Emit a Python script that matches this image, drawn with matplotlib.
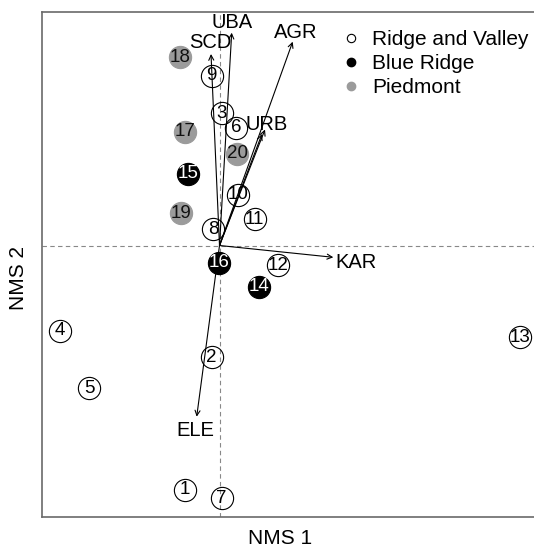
import matplotlib
matplotlib.use("Agg")
import matplotlib.pyplot as plt
from matplotlib.lines import Line2D

plt.rcParams['font.family'] = ['Liberation Sans', 'DejaVu Sans']

# Site scores (NMS 1, NMS 2)
site_ids = [str(i) for i in range(1, 21)]
nms1 = [-0.345, -0.078, 0.022, -1.595, -1.302, 0.165, 0.022, -0.062, -0.078, 0.182,
        0.350, 0.582, 3.005, 0.390, -0.315, -0.002, -0.345, -0.395, -0.385, 0.175]
nms2 = [-2.445, -1.118, 1.325, -0.852, -1.428, 1.175, -2.528, 0.162, 1.695, 0.510,
        0.265, -0.195, -0.918, -0.410, 0.720, -0.170, 1.135, 1.885, 0.325, 0.915]
region = (["Ridge and Valley"] * 13 + ["Blue Ridge"] * 3 + ["Piedmont"] * 4)

# Environmental vectors
vec_names = ["UBA", "SCD", "AGR", "URB", "", "KAR", "ELE"]
vec_x = [0.122, -0.085, 0.732, 0.455, 0.425, 1.138, -0.228]
vec_y = [2.128, 1.915, 2.038, 1.160, 1.115, -0.118, -1.712]
lab_x = [0.125, -0.095, 0.765, 0.475, 0.0, 1.365, -0.245]
lab_y = [2.225, 2.025, 2.135, 1.215, 0.0, -0.165, -1.855]

styles = {
    "Ridge and Valley": dict(face="none", edge="black", text="black", z=2),
    "Blue Ridge": dict(face="black", edge="black", text="white", z=5),
    "Piedmont": dict(face="#9b9b9b", edge="#9b9b9b", text="#111111", z=5),
}

W, H = 534, 546
fig = plt.figure(figsize=(W / 100, H / 100), dpi=100)
ax = fig.add_axes([41.5 / W, (H - 517) / H, 1 - 41.5 / W, 505 / H])
ax.set_xlim(-1.78, 3.145)
ax.set_ylim(-2.715, 2.335)

for s in ["left", "top", "bottom"]:
    ax.spines[s].set_color("#6a6a6a")
    ax.spines[s].set_linewidth(1.2)
ax.spines["right"].set_visible(False)
ax.set_xticks([])
ax.set_yticks([])

ax.axhline(0, color="#888888", lw=0.8, ls=(0, (4, 3)), zorder=1)
ax.axvline(0, color="#888888", lw=0.8, ls=(0, (4, 3)), zorder=1)

# vectors
for name, vx, vy, lx, ly in zip(vec_names, vec_x, vec_y, lab_x, lab_y):
    ax.annotate("", xy=(vx, vy), xytext=(0, 0),
                arrowprops=dict(arrowstyle="->", lw=0.8, color="black",
                                shrinkA=0, shrinkB=0, mutation_scale=9),
                zorder=3)
    if name:
        ax.text(lx, ly, name, ha="center", va="center", fontsize=14.5, zorder=6)

# sites
for sid, x, y, r in zip(site_ids, nms1, nms2, region):
    st = styles[r]
    ax.plot([x], [y], marker="o", ms=16, mfc=st["face"], mec=st["edge"],
            mew=0.8, ls="none", zorder=st["z"])
    ax.text(x, y, sid, ha="center", va="center", fontsize=13.5,
            color=st["text"], zorder=st["z"] + 0.5)

handles = [Line2D([], [], marker="o", ls="none", ms=6, mfc="none", mec="black", mew=0.8),
           Line2D([], [], marker="o", ls="none", ms=6, mfc="black", mec="black"),
           Line2D([], [], marker="o", ls="none", ms=6, mfc="#9b9b9b", mec="#9b9b9b")]
ax.legend(handles, ["Ridge and Valley", "Blue Ridge", "Piedmont"],
          loc="upper left", bbox_to_anchor=((344.8 - 41.5) / (W - 41.5), (517 - 30) / 505),
          frameon=False, fontsize=15, borderpad=0, handlelength=0.6,
          handletextpad=0.71, labelspacing=0.24, borderaxespad=0)

ax.set_xlabel("NMS 1", fontsize=15)
ax.set_ylabel("NMS 2", fontsize=15)
ax.xaxis.set_label_coords((280.5 - 41.5) / (W - 41.5), (517 - 538) / 505)
ax.yaxis.set_label_coords((18 - 41.5) / (W - 41.5), (517 - 278.5) / 505)
ax.xaxis.label.set_va("center")
ax.yaxis.label.set_va("center")

fig.savefig("out.png", dpi=100)
